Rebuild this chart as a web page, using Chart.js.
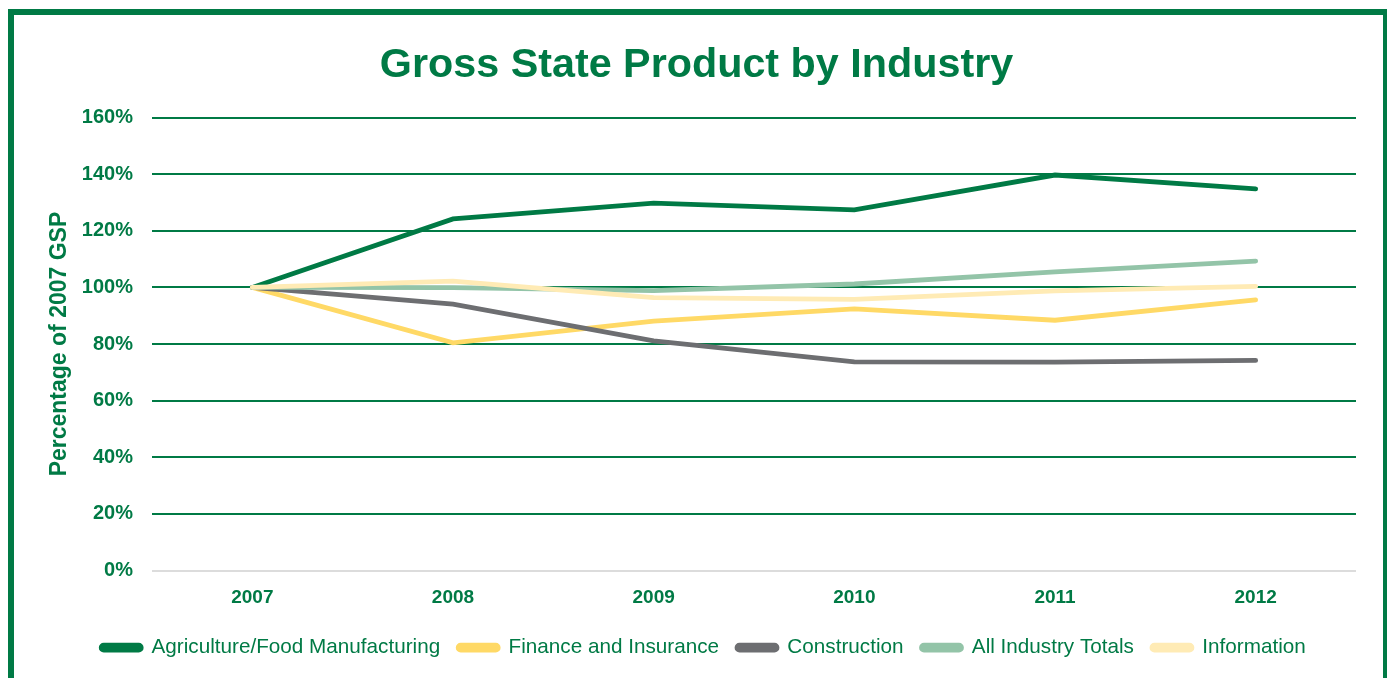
<!DOCTYPE html>
<html>
<head>
<meta charset="utf-8">
<title>Gross State Product by Industry</title>
<script src="https://cdn.jsdelivr.net/npm/chart.js@4"></script>
<style>
  html, body { margin: 0; padding: 0; background: #fff; overflow: hidden; }
  #frame {
    position: absolute;
    left: 8px;
    top: 9px;
    width: 1369px;
    height: 680px;
    border: 6px solid #007a45;
  }
  #chart { display: block; }
</style>
</head>
<body>
<div id="frame">
  <canvas id="chart" width="1369" height="663"></canvas>
</div>
<script>
// Percent of 2007 gross state product, by year
const years = ["2007", "2008", "2009", "2010", "2011", "2012"];
const agricultureFood = [100, 124.2, 129.8, 127.4, 139.7, 134.8];
const financeInsurance = [100, 80.4, 88.1, 92.4, 88.4, 95.6];
const construction = [100, 94.1, 81.1, 73.7, 73.6, 74.2];
const allIndustry = [100, 99.9, 98.9, 101.2, 105.5, 109.3];
const information = [100, 102.2, 96.4, 95.8, 98.8, 100.4];

const GREEN = "#007a45";
const FONT = "'Liberation Sans', Arial, sans-serif";

const series = [
  { label: "Agriculture/Food Manufacturing", data: agricultureFood, color: "#007a45" },
  { label: "Finance and Insurance", data: financeInsurance, color: "#ffd966" },
  { label: "Construction", data: construction, color: "#6d6e71" },
  { label: "All Industry Totals", data: allIndustry, color: "#93c4a8" },
  { label: "Information", data: information, color: "#ffebb5" },
];

// later series sit on top of earlier ones
const datasets = series.map((s, i) => ({
  label: s.label,
  data: s.data,
  borderColor: s.color,
  backgroundColor: s.color,
  borderWidth: 4.8,
  borderCapStyle: "round",
  pointRadius: 0,
  pointHoverRadius: 0,
  fill: false,
  tension: 0,
  yAxisID: "y",
  order: series.length - i,
}));

// nudge the legend row a little to the right of the title's centre line
const legendShift = {
  id: "legendShift",
  afterLayout(chart) {
    chart.legend.left += 7;
    chart.legend.right += 7;
  },
};

const ctx = document.getElementById("chart").getContext("2d");

new Chart(ctx, {
  type: "line",
  data: { labels: years, datasets },
  plugins: [legendShift],
  options: {
    responsive: false,
    animation: false,
    layout: { padding: { left: 0, right: 4, top: 0, bottom: 10 } },
    plugins: {
      title: {
        display: true,
        text: "Gross State Product by Industry",
        color: GREEN,
        font: { family: FONT, size: 41.3, weight: "bold" },
        padding: { top: 26, bottom: 27 },
      },
      legend: {
        position: "bottom",
        labels: {
          color: GREEN,
          font: { family: FONT, size: 20.7 },
          boxWidth: 40,
          boxHeight: 5,
          useBorderRadius: true,
          borderRadius: 2.5,
          padding: 18,
          sort: (a, b) => a.datasetIndex - b.datasetIndex,
        },
      },
      tooltip: { enabled: false },
    },
    scales: {
      x: {
        offset: true,
        afterFit: (scale) => { scale.height -= 6; },
        grid: { display: false, drawTicks: false },
        border: { display: false },
        ticks: {
          color: GREEN,
          font: { family: FONT, size: 19, weight: "bold" },
          padding: 16,
        },
      },
      y: {
        min: 0,
        max: 160,
        afterFit: (scale) => { scale.width = 138; },
        grid: {
          drawTicks: false,
          lineWidth: 2,
          color: (c) => (c.tick && c.tick.value === 0 ? "#dcdcdc" : GREEN),
        },
        border: { display: false },
        ticks: {
          stepSize: 20,
          color: GREEN,
          font: { family: FONT, size: 20, weight: "bold" },
          padding: 19,
          callback: (v) => v + "%",
        },
        title: {
          display: true,
          text: "Percentage of 2007 GSP",
          color: GREEN,
          font: { family: FONT, size: 23, weight: "bold" },
          padding: { top: 32, bottom: 0 },
        },
      },
      // empty right-hand gutter between the plot and the frame
      gutter: {
        position: "right",
        afterFit: (scale) => { scale.width = 23; },
        grid: { display: false, drawTicks: false },
        border: { display: false },
        ticks: { display: false },
      },
    },
  },
});
</script>
</body>
</html>
